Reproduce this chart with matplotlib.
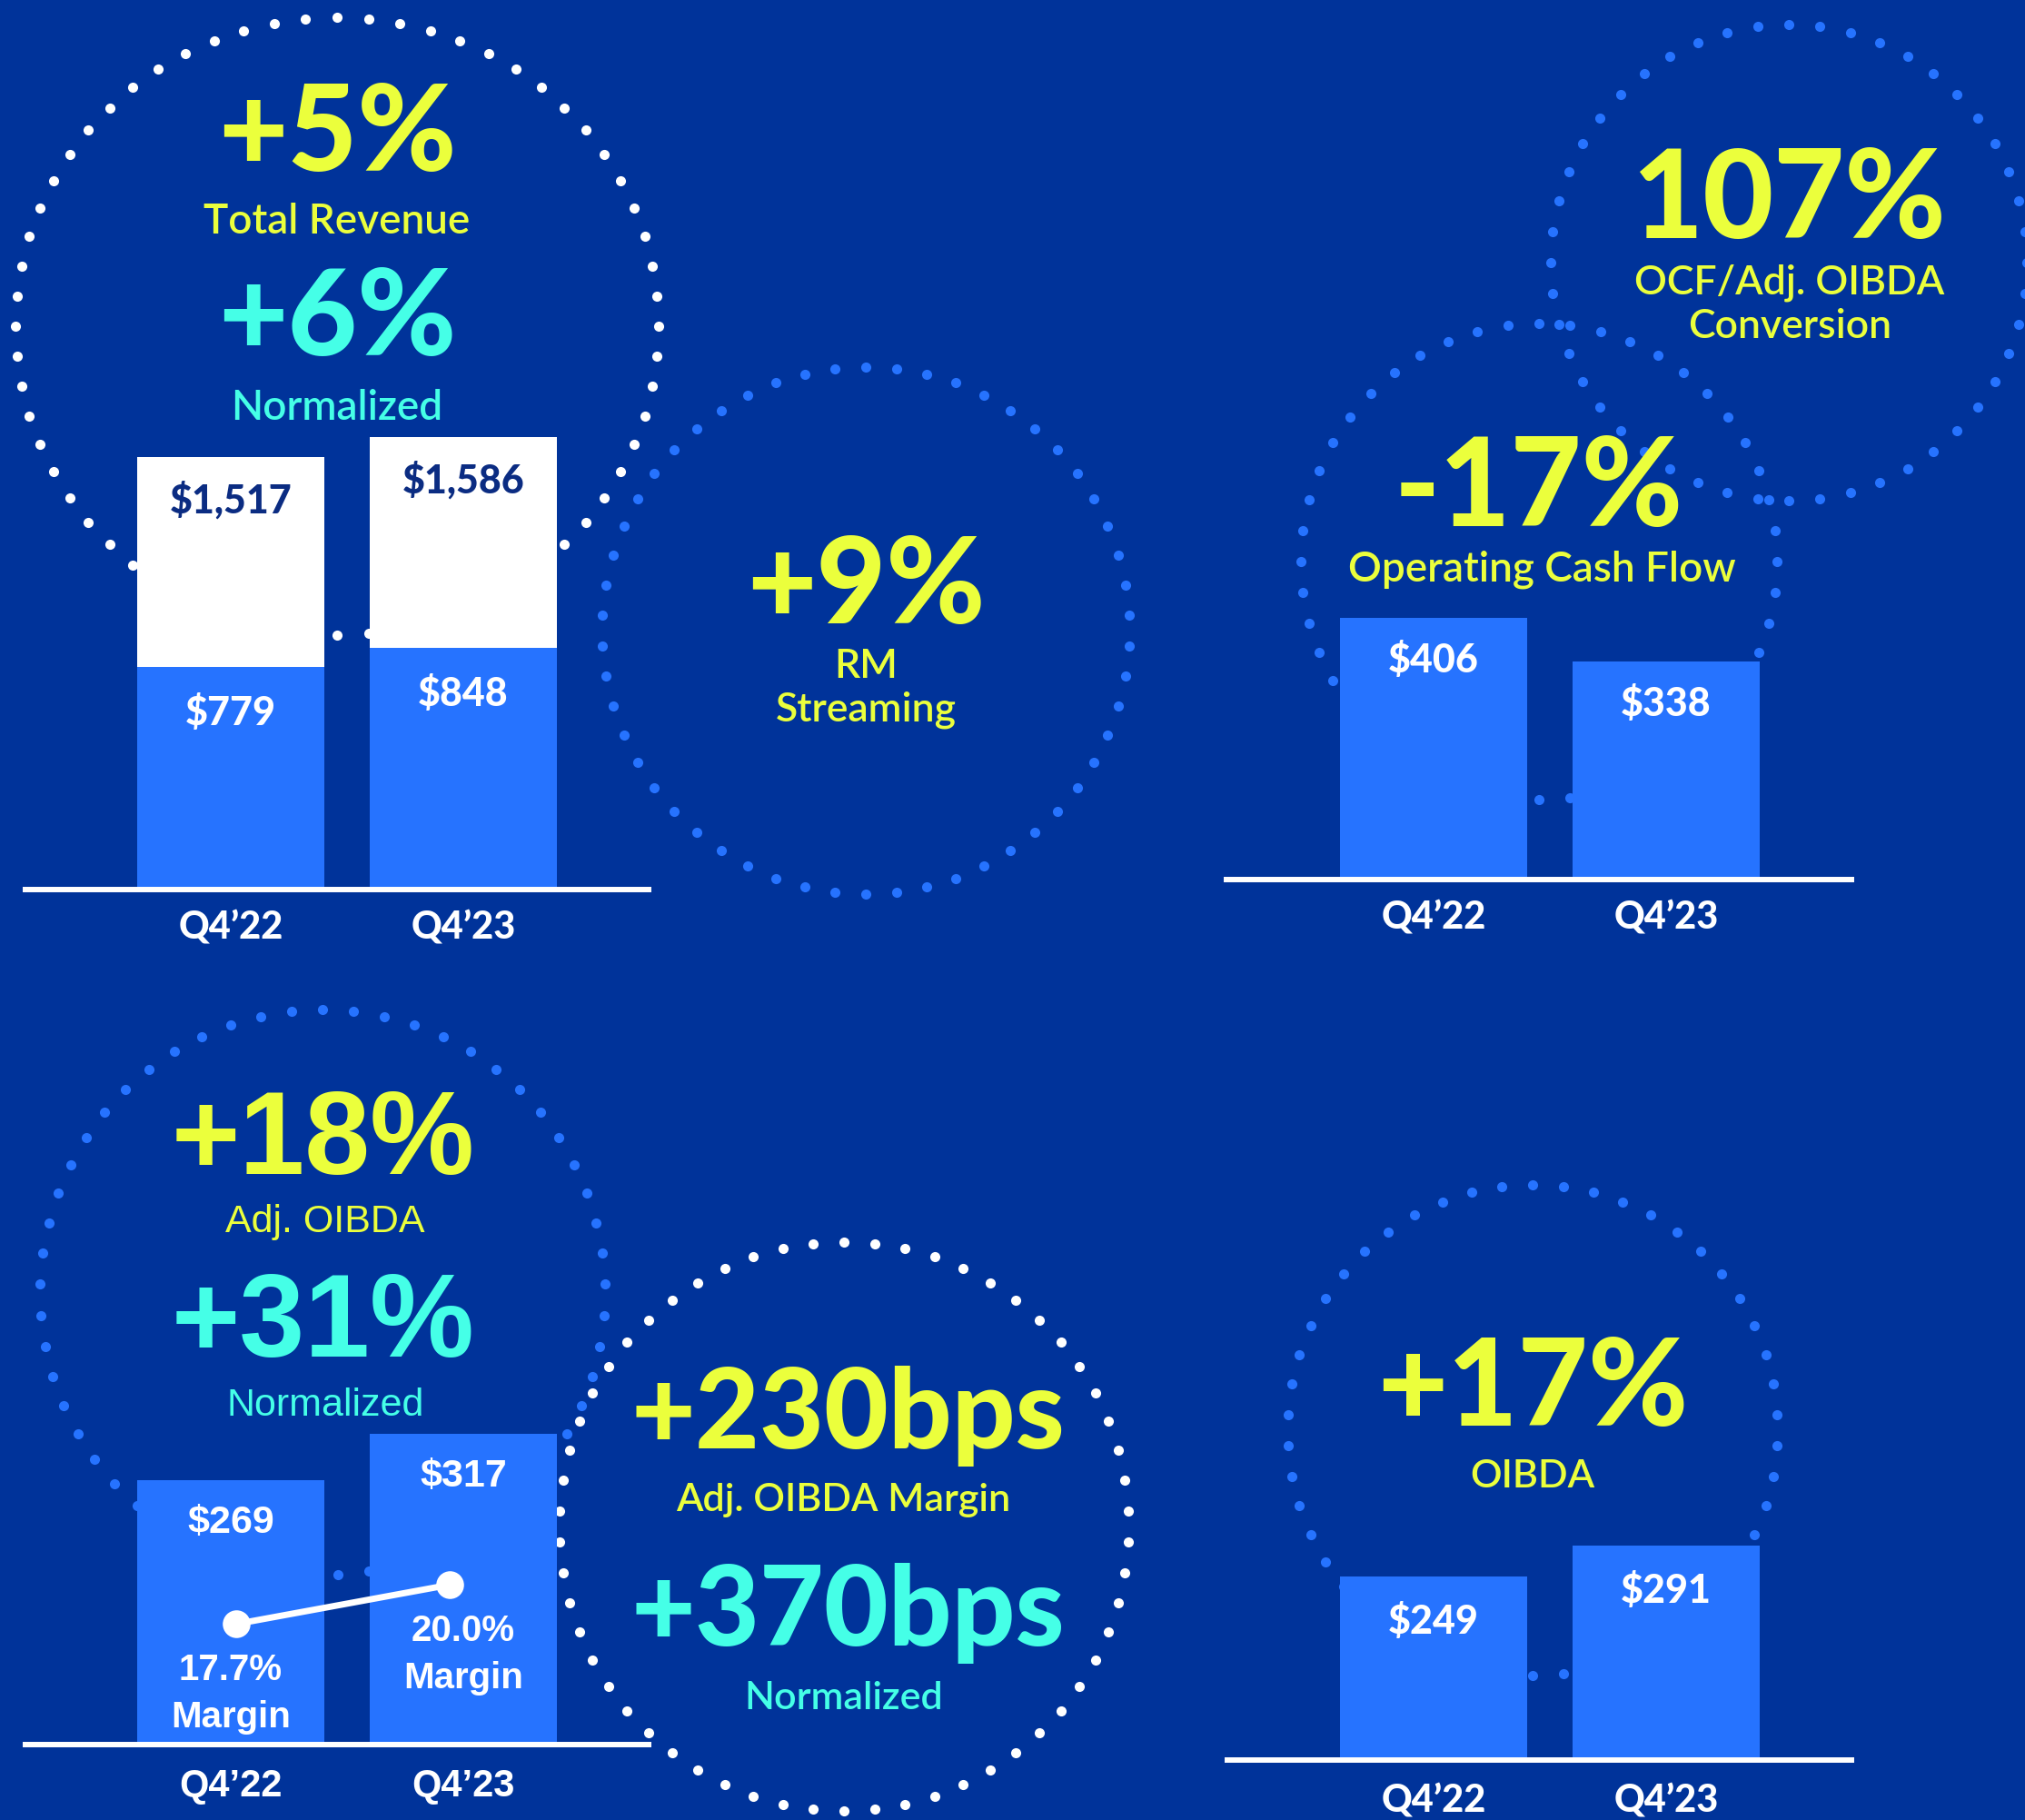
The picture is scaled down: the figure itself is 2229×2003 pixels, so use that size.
import matplotlib
matplotlib.use('Agg')
import matplotlib.pyplot as plt
import numpy as np

# ---------------- data ----------------
quarters = ["Q4\u201922", "Q4\u201923"]
total_revenue = [1517, 1586]
revenue_segment = [779, 848]
operating_cash_flow = [406, 338]
adj_oibda = [269, 317]
adj_oibda_margin = [17.7, 20.0]
oibda = [249, 291]

# ---------------- style ----------------
W, H, DPI = 2229, 2003, 100
BG = '#00339A'
BAR = '#2673FF'
YEL = '#EBFF3C'
CYAN = '#45FFE7'
NAVY = '#0B2C82'
WHITE = '#FFFFFF'

FONTS = {
    'wide_heavy': dict(family=['Lato', 'DejaVu Sans'], weight=900),
    'wide_med': dict(family=['Lato', 'DejaVu Sans'], weight=600),
    'cond_heavy': dict(family=['Liberation Sans', 'DejaVu Sans'], weight='bold'),
    'cond_bold': dict(family=['Liberation Sans', 'DejaVu Sans'], weight='bold'),
    'cond_reg': dict(family=['Liberation Sans', 'DejaVu Sans'], weight='normal'),
}

fig = plt.figure(figsize=(W / DPI, H / DPI), dpi=DPI, facecolor=BG)

# background axes in pixel coordinates (for dotted circles and headline text)
ax_bg = fig.add_axes([0, 0, 1, 1])
ax_bg.set_xlim(0, W)
ax_bg.set_ylim(H, 0)
ax_bg.axis('off')
ax_bg.set_facecolor(BG)

# dotted circles: (cx, cy, rx, ry, color)
circles = [
    (371, 359, 354, 340, WHITE),
    (953, 694, 290, 290, BAR),
    (1969, 289, 262, 262, BAR),
    (1694, 618, 262, 262, BAR),
    (355, 1422, 311, 311, BAR),
    (929, 1680, 313, 313, WHITE),
    (1687, 1574, 270, 270, BAR),
]
DOT_SPACING = 34
for cx, cy, rx, ry, col in circles:
    n = int(round(2 * np.pi * (rx + ry) / 2 / DOT_SPACING))
    t = np.pi / 2 + np.arange(n) * 2 * np.pi / n
    ax_bg.scatter(cx + rx * np.cos(t), cy - ry * np.sin(t), s=64, color=col,
                  linewidths=0, zorder=2 if col == WHITE else 1)

# headline text: (text, x, baseline, size, color, font)
headlines = [
    ("+5%", 371, 188, 95, YEL, 'wide_heavy'),
    ("Total Revenue", 371, 257, 33, YEL, 'wide_med'),
    ("+6%", 371, 391, 95, CYAN, 'wide_heavy'),
    ("Normalized", 371, 462, 33, CYAN, 'wide_med'),
    ("107%", 1969, 262, 97, YEL, 'wide_heavy'),
    ("OCF/Adj. OIBDA", 1970, 323, 32, YEL, 'wide_med'),
    ("Conversion", 1970, 372, 32, YEL, 'wide_med'),
    ("-17%", 1694, 579, 97, YEL, 'wide_heavy'),
    ("Operating Cash Flow", 1697, 640, 33, YEL, 'wide_med'),
    ("+9%", 953, 686, 95, YEL, 'wide_heavy'),
    ("RM", 953, 746, 32, YEL, 'wide_med'),
    ("Streaming", 953, 793, 32, YEL, 'wide_med'),
    ("+18%", 356, 1292, 93, YEL, 'cond_heavy'),
    ("Adj. OIBDA", 358, 1356, 31, YEL, 'cond_reg'),
    ("+31%", 356, 1493, 93, CYAN, 'cond_heavy'),
    ("Normalized", 358, 1558, 31, CYAN, 'cond_reg'),
    ("+230bps", 933, 1594, 88, YEL, 'wide_heavy'),
    ("Adj. OIBDA Margin", 928, 1663, 31, YEL, 'wide_med'),
    ("+370bps", 933, 1811, 88, CYAN, 'wide_heavy'),
    ("Normalized", 929, 1881, 31, CYAN, 'wide_med'),
    ("+17%", 1687, 1569, 96, YEL, 'wide_heavy'),
    ("OIBDA", 1687, 1637, 31, YEL, 'wide_med'),
]
for txt, x, y, size, col, f in headlines:
    ax_bg.text(x, y, txt, ha='center', va='baseline', fontsize=size, color=col,
               zorder=5, **FONTS[f])

# ---------------- bar panels ----------------
SPACING = 256          # px between bar centers
BAR_WIDTH = 206 / 256  # in category units
AXIS_LW = 4.3


def bar_axes(x0, x1, ybase, ytop, c0, ppu, tick_font, tick_pad):
    ax = fig.add_axes([x0 / W, 1 - ybase / H, (x1 - x0) / W, (ybase - ytop) / H])
    ax.set_xlim((x0 - c0) / SPACING, (x1 - c0) / SPACING)
    ax.set_ylim(0, (ybase - ytop) / ppu)
    ax.patch.set_alpha(0)
    for s in ('top', 'left', 'right'):
        ax.spines[s].set_visible(False)
    ax.spines['bottom'].set_color(WHITE)
    ax.spines['bottom'].set_linewidth(AXIS_LW)
    ax.spines['bottom'].set_zorder(4)
    ax.set_yticks([])
    ax.set_xticks(range(len(quarters)))
    ax.set_xticklabels(quarters, fontsize=30, color=WHITE, **FONTS[tick_font])
    ax.tick_params(axis='x', length=0, pad=tick_pad)
    return ax


def value_labels(ax, values, offset_px, color, font, size=31):
    for i, v in enumerate(values):
        ax.annotate(f"${v:,}", xy=(i, v), xytext=(0, -offset_px),
                    textcoords='offset pixels', ha='center', va='baseline',
                    fontsize=size, color=color, zorder=6, **FONTS[font])


x = np.arange(len(quarters))

# Panel 1: Total revenue
ax1 = bar_axes(28, 714, 979, 300, 254, 0.314, 'wide_heavy', 17)
ax1.bar(x, total_revenue, width=BAR_WIDTH, color=WHITE, zorder=2)
ax1.bar(x, revenue_segment, width=BAR_WIDTH, color=BAR, zorder=3)
value_labels(ax1, total_revenue, 62, NAVY, 'wide_heavy')
value_labels(ax1, revenue_segment, 64, WHITE, 'wide_heavy')

# Panel 2: Operating cash flow
ax2 = bar_axes(1350, 2038, 968, 600, 1578, 0.71, 'wide_heavy', 17)
ax2.bar(x, operating_cash_flow, width=BAR_WIDTH, color=BAR, zorder=2)
value_labels(ax2, operating_cash_flow, 60, WHITE, 'wide_heavy')

# Panel 3: Adj. OIBDA with margin line
ax3 = bar_axes(28, 714, 1920, 1500, 254, 1.08, 'cond_bold', 19)
ax3.bar(x, adj_oibda, width=BAR_WIDTH, color=BAR, zorder=2)
value_labels(ax3, adj_oibda, 58, WHITE, 'cond_bold', size=31)

MARGIN_PX_PER_PT = 18.7
MARGIN_AXIS_MIN = 10.6
ax3m = ax3.twinx()
ax3m.set_ylim(MARGIN_AXIS_MIN, MARGIN_AXIS_MIN + (1920 - 1500) / MARGIN_PX_PER_PT)
ax3m.axis('off')
marker_shift = np.array([0.025, -0.06])
ax3m.plot(x + marker_shift, adj_oibda_margin, color=WHITE, lw=5, marker='o',
          markersize=22, markerfacecolor=WHITE, markeredgewidth=0, zorder=5)
for i, m in enumerate(adj_oibda_margin):
    ax3m.annotate(f"{m:.1f}%", xy=(i, m), xytext=(0, -62), textcoords='offset pixels',
                  ha='center', va='baseline', fontsize=29, color=WHITE, **FONTS['cond_bold'])
    ax3m.annotate("Margin", xy=(i, m), xytext=(0, -114), textcoords='offset pixels',
                  ha='center', va='baseline', fontsize=29, color=WHITE, **FONTS['cond_bold'])

# Panel 4: OIBDA
ax4 = bar_axes(1351, 2038, 1937, 1600, 1578, 0.81, 'wide_heavy', 19)
ax4.bar(x, oibda, width=BAR_WIDTH, color=BAR, zorder=2)
value_labels(ax4, oibda, 63, WHITE, 'wide_heavy')

fig.savefig('out.png', dpi=DPI, facecolor=BG)
